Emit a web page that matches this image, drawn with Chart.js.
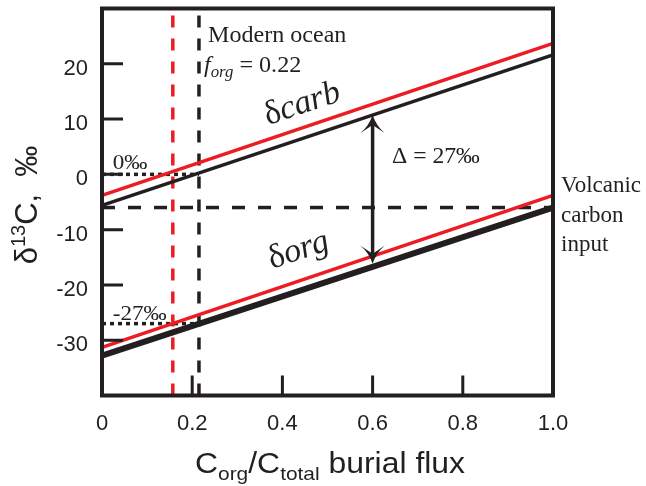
<!DOCTYPE html>
<html>
<head>
<meta charset="utf-8">
<script src="https://cdn.jsdelivr.net/npm/chart.js@4.4.1/dist/chart.umd.min.js"></script>
<style>
  html, body { margin: 0; padding: 0; background: #fff; }
  #wrap { width: 646px; height: 486px; }
</style>
</head>
<body>
<div id="wrap"><canvas id="canvas" width="646" height="486"></canvas></div>
<script>
// values
const xTicks = [0, 0.2, 0.4, 0.6, 0.8, 1.0];
const yTicks = [-30, -20, -10, 0, 10, 20];
const flux = [0, 1];
const carbBlack = [-5.6, 21.6];
const carbRed = [-3.8, 23.7];
const orgBlack = [-32.8, -6.0];
const orgRed = [-31.3, -3.8];
const volcanicInput = -6;
const modernForg = 0.215;
const redForg = 0.157;
const zeroMark = 0;
const orgMark = -27;
const arrowX = 0.6;

const INK = '#231f20';
const RED = '#ed1c24';

function pts(xs, ys) {
  return xs.map((v, i) => ({x: v, y: ys[i]}));
}

function at(line, f) {
  return line[0] + (line[1] - line[0]) * f;
}

function lineSet(data, color, width, dash) {
  return {
    data: data,
    showLine: true,
    borderColor: color,
    backgroundColor: color,
    borderWidth: width,
    borderDash: dash || [],
    pointRadius: 0,
    pointHoverRadius: 0,
    borderCapStyle: 'butt',
    clip: false,
  };
}

// text made of pieces with their own font and baseline shift
function drawRich(ctx, parts, x, y, align, stretch) {
  ctx.save();
  ctx.translate(x, y);
  ctx.scale(stretch || 1, 1);
  let total = 0;
  for (const p of parts) {
    ctx.font = p.font;
    p.w = ctx.measureText(p.text).width;
    total += p.w;
  }
  let cx = align === 'center' ? -total / 2 : 0;
  ctx.textBaseline = 'alphabetic';
  ctx.textAlign = 'left';
  for (const p of parts) {
    ctx.font = p.font;
    ctx.fillText(p.text, cx, p.dy || 0);
    cx += p.w;
  }
  ctx.restore();
}

function arrowHead(ctx, x, tip, dir) {
  // dir = 1 points up, -1 points down
  const w = 12, h = 18, back = 10;
  ctx.beginPath();
  ctx.moveTo(x, tip);
  ctx.quadraticCurveTo(x + w * 0.3, tip + dir * h * 0.6, x + w, tip + dir * h);
  ctx.lineTo(x, tip + dir * back);
  ctx.lineTo(x - w, tip + dir * h);
  ctx.quadraticCurveTo(x - w * 0.3, tip + dir * h * 0.6, x, tip);
  ctx.fill();
}

const sans = '"Liberation Sans", Arial, Helvetica, sans-serif';
const serif = '"Liberation Serif", "Times New Roman", serif';

const annotations = {
  id: 'annotations',
  afterDraw(chart) {
    const {ctx, chartArea: a, scales: {x, y}} = chart;
    ctx.save();
    ctx.fillStyle = INK;
    ctx.strokeStyle = INK;

    // inward tick marks
    ctx.lineWidth = 3;
    ctx.beginPath();
    for (const v of yTicks) {
      const py = y.getPixelForValue(v);
      ctx.moveTo(a.left, py);
      ctx.lineTo(a.left + 21, py);
    }
    for (const v of xTicks) {
      if (v === 0 || v === 1) continue;
      const px = x.getPixelForValue(v);
      ctx.moveTo(px, a.bottom);
      ctx.lineTo(px, a.bottom - 20);
    }
    ctx.stroke();

    // frame
    ctx.lineWidth = 4;
    ctx.strokeRect(a.left, a.top, a.right - a.left, a.bottom - a.top);

    // double arrow between the two black lines
    const ax = x.getPixelForValue(arrowX);
    const top = y.getPixelForValue(at(carbBlack, arrowX));
    const bottom = y.getPixelForValue(at(orgBlack, arrowX)) - 3;
    ctx.lineWidth = 3.5;
    ctx.beginPath();
    ctx.moveTo(ax, top + 8);
    ctx.lineTo(ax, bottom - 8);
    ctx.stroke();
    arrowHead(ctx, ax, top, 1);
    arrowHead(ctx, ax, bottom, -1);

    // serif labels inside the plot
    const P = (vx, vy) => [x.getPixelForValue(vx), y.getPixelForValue(vy)];
    let p = P(0.235, 23.9);
    drawRich(ctx, [{text: 'Modern ocean', font: `22.5px ${serif}`}], p[0], p[1], 'left', 1.07);
    p = P(0.226, 18.6);
    drawRich(ctx, [
      {text: 'f', font: `italic 23px ${serif}`},
      {text: 'org', font: `italic 16px ${serif}`, dy: 5},
      {text: ' = 0.22', font: `23px ${serif}`},
    ], p[0], p[1], 'left', 1.05);
    p = P(0.643, 2.1);
    drawRich(ctx, [{text: 'Δ = 27‰', font: `23px ${serif}`}], p[0], p[1], 'left', 1.03);
    p = P(0.024, 1.0);
    drawRich(ctx, [{text: '0‰', font: `21px ${serif}`}], p[0], p[1], 'left', 1.1);
    p = P(0.024, -26.3);
    drawRich(ctx, [{text: '-27‰', font: `21px ${serif}`}], p[0], p[1], 'left', 1.1);

    // rotated line names
    const angle = Math.atan2(
      y.getPixelForValue(carbBlack[1]) - y.getPixelForValue(carbBlack[0]),
      x.getPixelForValue(flux[1]) - x.getPixelForValue(flux[0])
    );
    const rotated = (vx, vy, word) => {
      const q = P(vx, vy);
      ctx.save();
      ctx.translate(q[0], q[1]);
      ctx.rotate(angle);
      drawRich(ctx, [
        {text: 'δ', font: `34px ${serif}`},
        {text: word, font: `italic 34px ${serif}`},
      ], 0, 0, 'left', 1);
      ctx.restore();
    };
    rotated(0.368, 8.9, 'carb');
    rotated(0.377, -17.1, 'org');

    // label outside the plot on the right
    const vx = a.right + 8;
    ['Volcanic', 'carbon', 'input'].forEach((t, i) => {
      drawRich(ctx, [{text: t, font: `23px ${serif}`}], vx, y.getPixelForValue(-3.2) + i * 29.5, 'left', 1);
    });

    // axis titles
    drawRich(ctx, [
      {text: 'C', font: `29px ${sans}`},
      {text: 'org', font: `19px ${sans}`, dy: 7},
      {text: '/C', font: `29px ${sans}`},
      {text: 'total', font: `19px ${sans}`, dy: 7},
      {text: ' burial flux', font: `29px ${sans}`},
    ], 330, 473, 'center', 1.1);

    ctx.save();
    ctx.translate(37, 205);
    ctx.rotate(-Math.PI / 2);
    drawRich(ctx, [
      {text: 'δ', font: `31px ${sans}`},
      {text: '13', font: `20px ${sans}`, dy: -12},
      {text: 'C,  ‰', font: `31px ${sans}`},
    ], 0, 0, 'center', 1);
    ctx.restore();

    ctx.restore();
  },
};

const config = {
  type: 'scatter',
  data: {
    datasets: [
      lineSet(pts(flux, carbRed), RED, 3.5),
      lineSet(pts(flux, carbBlack), INK, 3.5),
      lineSet(pts(flux, orgRed), RED, 3.5),
      lineSet(pts(flux, orgBlack), INK, 6),
      lineSet(pts([0, 1], [volcanicInput, volcanicInput]), INK, 3.5, [13, 13]),
      lineSet(pts([modernForg, modernForg], [-40, 30]), INK, 3.5, [12, 11]),
      lineSet(pts([redForg, redForg], [-40, 30]), RED, 3.5, [12, 11]),
      lineSet(pts([0, modernForg], [zeroMark, zeroMark]), INK, 3.5, [4, 4]),
      lineSet(pts([0, modernForg], [orgMark, orgMark]), INK, 3.5, [4, 4]),
    ],
  },
  options: {
    responsive: false,
    animation: false,
    events: [],
    layout: {padding: {top: 8.5, right: 93, left: 0, bottom: 0}},
    plugins: {legend: {display: false}, tooltip: {enabled: false}},
    scales: {
      x: {
        type: 'linear',
        min: 0,
        max: 1,
        afterFit: scale => {
          scale.height = 90.5;
          scale.paddingLeft = 0;
          scale.paddingRight = 0;
        },
        afterBuildTicks: scale => { scale.ticks = xTicks.map(v => ({value: v})); },
        grid: {display: false, drawTicks: false, tickLength: 0},
        border: {display: false},
        ticks: {
          padding: 15,
          color: INK,
          font: {family: sans, size: 22},
          callback: v => (v === 0 ? '0' : v.toFixed(1)),
        },
      },
      y: {
        type: 'linear',
        min: -40,
        max: 30,
        afterFit: scale => {
          scale.width = 102;
          scale.paddingTop = 0;
          scale.paddingBottom = 0;
        },
        afterBuildTicks: scale => { scale.ticks = yTicks.map(v => ({value: v})); },
        grid: {display: false, drawTicks: false, tickLength: 0},
        border: {display: false},
        ticks: {
          padding: 14,
          labelOffset: 5,
          color: INK,
          font: {family: sans, size: 22},
          callback: v => String(v),
        },
      },
    },
  },
  plugins: [annotations],
};

document.addEventListener('DOMContentLoaded', () => {
  const context = document.getElementById('canvas').getContext('2d');
  new Chart(context, config);
});
</script>
</body>
</html>
